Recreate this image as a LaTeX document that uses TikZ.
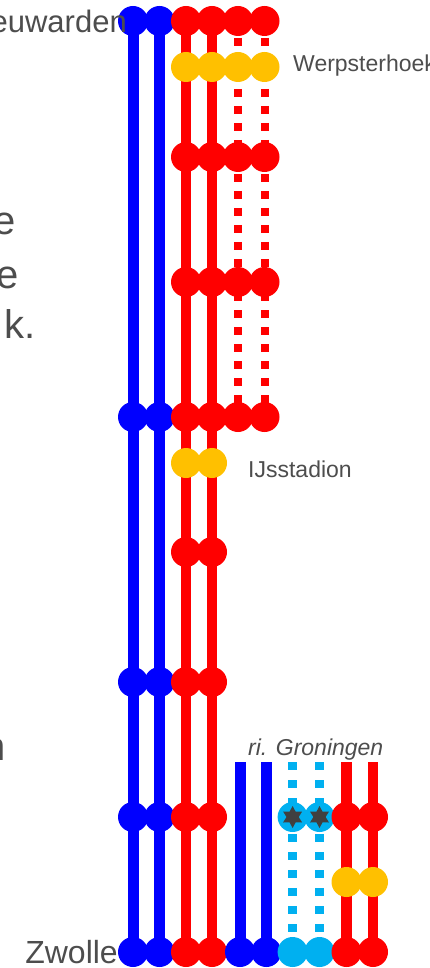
\documentclass[tikz,border=0pt]{standalone}
\usepackage{fontspec}
\setmainfont{Liberation Sans}
\usetikzlibrary{shapes.geometric,backgrounds}
\definecolor{lineblue}{HTML}{0000FF}
\definecolor{linered}{HTML}{FF0000}
\definecolor{haltyellow}{HTML}{FFC000}
\definecolor{lightblue}{HTML}{00B0F0}
\definecolor{textgray}{HTML}{4D4D4D}
\definecolor{stargray}{HTML}{404040}
\tikzstyle{stop}      = [circle, minimum size=30pt, inner sep=0pt]
\tikzstyle{bstop}     = [stop, fill=lineblue]
\tikzstyle{rstop}     = [stop, fill=linered]
\tikzstyle{ystop}     = [stop, fill=haltyellow]
\tikzstyle{cstop}     = [stop, fill=lightblue]
\tikzstyle{starmark}  = [star, star points=6, star point ratio=1.8, minimum size=22pt, inner sep=0pt, fill=stargray]
\tikzstyle{bline}     = [line width=11pt, lineblue]
\tikzstyle{rline}     = [line width=10.5pt, linered]
\tikzstyle{rdots}     = [line width=8pt, linered, dash pattern=on 8pt off 9pt]
\tikzstyle{cdots}     = [line width=8.5pt, lightblue, dash pattern=on 8pt off 10pt]
\tikzstyle{citytext}  = [font=\fontsize{31}{33}\selectfont, text=textgray, inner sep=0pt]
\tikzstyle{stoptext}  = [font=\fontsize{23}{25}\selectfont, text=textgray, inner sep=0pt]
\tikzstyle{sidetext}  = [font=\fontsize{40}{44}\selectfont, text=textgray, inner sep=0pt, anchor=base east]
\begin{document}
\begin{tikzpicture}[x=1pt,y=-1pt]
		\useasboundingbox (0,0) rectangle (430,968);

		% Leeuwarden
		\node[bstop] (a1) at (133,21) {};
		\node[bstop] (b1) at (159.5,21) {};
		\node[rstop] (c1) at (186,21) {};
		\node[rstop] (d1) at (212,21) {};
		\node[rstop] (e1) at (238,21) {};
		\node[rstop] (f1) at (264.5,21) {};

		% Werpsterhoek
		\node[ystop] (c2) at (186,67) {};
		\node[ystop] (d2) at (212,67) {};
		\node[ystop] (e2) at (238,67) {};
		\node[ystop] (f2) at (264.5,67) {};

		\node[rstop] (c3) at (186,157) {};
		\node[rstop] (d3) at (212,157) {};
		\node[rstop] (e3) at (238,157) {};
		\node[rstop] (f3) at (264.5,157) {};

		\node[rstop] (c4) at (186,282) {};
		\node[rstop] (d4) at (212,282) {};
		\node[rstop] (e4) at (238,282) {};
		\node[rstop] (f4) at (264.5,282) {};

		\node[bstop] (a5) at (133,417) {};
		\node[bstop] (b5) at (159.5,417) {};
		\node[rstop] (c5) at (186,417) {};
		\node[rstop] (d5) at (212,417) {};
		\node[rstop] (e5) at (238,417) {};
		\node[rstop] (f5) at (264.5,417) {};

		% IJsstadion
		\node[ystop] (c6) at (186,463) {};
		\node[ystop] (d6) at (212,463) {};

		\node[rstop] (c7) at (186,552) {};
		\node[rstop] (d7) at (212,552) {};

		\node[bstop] (a8) at (133,682) {};
		\node[bstop] (b8) at (159.5,682) {};
		\node[rstop] (c8) at (186,682) {};
		\node[rstop] (d8) at (212,682) {};

		\node[bstop] (a9) at (133,817) {};
		\node[bstop] (b9) at (159.5,817) {};
		\node[rstop] (c9) at (186,817) {};
		\node[rstop] (d9) at (212,817) {};
		\node[cstop] (i9) at (292.6,817) {};
		\node[cstop] (j9) at (319.5,817) {};
		\node[starmark] (i9star) at (i9) {};
		\node[starmark] (j9star) at (j9) {};
		\node[rstop] (k9) at (346.5,817) {};
		\node[rstop] (l9) at (373,817) {};

		\node[ystop] (k10) at (346.5,882) {};
		\node[ystop] (l10) at (373,882) {};

		% Zwolle
		\node[bstop] (a11) at (133,952) {};
		\node[bstop] (b11) at (159.5,952) {};
		\node[rstop] (c11) at (186,952) {};
		\node[rstop] (d11) at (212,952) {};
		\node[bstop] (g11) at (240,952) {};
		\node[bstop] (h11) at (266.3,952) {};
		\node[cstop] (i11) at (292.6,952) {};
		\node[cstop] (j11) at (319.5,952) {};
		\node[rstop] (k11) at (346.5,952) {};
		\node[rstop] (l11) at (373,952) {};

		% ri. Groningen
		\coordinate (g0) at (240,762);
		\coordinate (h0) at (266.3,762);
		\coordinate (i0) at (292.6,762);
		\coordinate (j0) at (319.5,762);
		\coordinate (k0) at (346.5,762);
		\coordinate (l0) at (373,762);

		\begin{scope}[on background layer]
			\draw[bline] (a1.center) -- (a11.center);
			\draw[bline] (b1.center) -- (b11.center);
			\draw[rline] (c1.center) -- (c11.center);
			\draw[rline] (d1.center) -- (d11.center);
			\draw[rdots] (e1.center) -- (e5.center);
			\draw[rdots] (f1.center) -- (f5.center);
			\draw[bline] (g0) -- (g11.center);
			\draw[bline] (h0) -- (h11.center);
			\draw[cdots] (i0) -- (i11.center);
			\draw[cdots] (j0) -- (j11.center);
			\draw[rline] (k0) -- (k11.center);
			\draw[rline] (l0) -- (l11.center);
		\end{scope}

		\node[citytext, anchor=base east] (leeuwarden) at (127,33) {euwarden};
		\node[citytext, anchor=base east, font=\fontsize{32}{34}\selectfont] (zwolle) at (118,963) {Zwolle};
		\node[stoptext, anchor=base west] (werpsterhoek) at (293,72) {Werpsterhoek};
		\node[stoptext, anchor=base west] (ijsstadion) at (248,477) {IJsstadion};
		\node[stoptext, anchor=base west, font=\fontsize{23}{25}\selectfont\itshape] (groningen) at (248,755) {ri. Groningen};

		\node[sidetext] (side1) at (16,235) {e};
		\node[sidetext] (side2) at (19,288) {e};
		\node[sidetext] (side3) at (36,338) {k.};
		\node[sidetext] (side4) at (6,760) {n};
	\end{tikzpicture}
\end{document}
